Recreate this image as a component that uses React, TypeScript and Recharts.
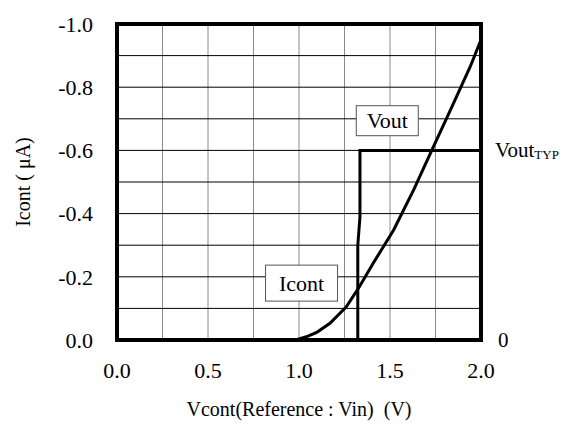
import React from 'react';
import { LineChart, Line, XAxis, YAxis, CartesianGrid, ReferenceArea, ReferenceDot } from 'recharts';

// X axis (Vcont, V)
const xTicks = [0, 0.25, 0.5, 0.75, 1.0, 1.25, 1.5, 1.75, 2.0];
const xLabeled = [0, 0.5, 1.0, 1.5, 2.0];
// Y axis (Icont, uA)
const yTicks = [0, -0.1, -0.2, -0.3, -0.4, -0.5, -0.6, -0.7, -0.8, -0.9, -1.0];
const yLabeled = [0, -0.2, -0.4, -0.6, -0.8, -1.0];
// right-side annotations: value levels and their texts
const rightLevels = [-0.6, 0];
const rightTexts = ['Vout|TYP', '0'];

// Icont curve
const icontX = [0, 0.98, 1.0, 1.05, 1.1, 1.17, 1.26, 1.33, 1.41, 1.52, 1.63, 1.73, 1.84, 1.94, 2.0];
const icontY = [0, 0, -0.003, -0.012, -0.025, -0.053, -0.105, -0.167, -0.245, -0.348, -0.475, -0.601, -0.738, -0.864, -0.95];
// Vout step
const voutX = [0, 1.323, 1.323, 1.335, 1.335, 2.0];
const voutY = [0, 0, -0.3, -0.39, -0.6, -0.6];

const icontData = icontX.map((x, i) => ({ x, y: icontY[i] }));
const voutData = voutX.map((x, i) => ({ x, y: voutY[i] }));

const FONT = "'Liberation Serif', 'Times New Roman', serif";

const isIn = (arr: number[], v: number) => arr.some((t) => Math.abs(t - v) < 1e-9);

const XTick = (props: any) => {
  const { x, y, payload } = props;
  if (!isIn(xLabeled, payload.value)) return <g />;
  return (
    <text x={x} y={y} dy="0.71em" textAnchor="middle" fontSize={22} fontFamily={FONT} fill="#000">
      {payload.value.toFixed(1)}
    </text>
  );
};

const YTick = (props: any) => {
  const { x, y, payload } = props;
  if (!isIn(yLabeled, payload.value)) return <g />;
  const v = payload.value;
  return (
    <text x={x} y={y} dy="0.35em" textAnchor="end" fontSize={22} fontFamily={FONT} fill="#000">
      {v === 0 ? '0.0' : v.toFixed(1)}
    </text>
  );
};

const rightShape = (txt: string) => (props: any) => {
  const { cx, cy } = props;
  const [main, sub] = txt.split('|');
  if (!sub) {
    return (
      <text x={cx + 17} y={cy} dy="0.35em" fontSize={21} fontFamily={FONT} fill="#000" textAnchor="start">
        {main}
      </text>
    );
  }
  return (
    <text x={cx + 14} y={cy} dy="0.3em" fontSize={21} fontFamily={FONT} fill="#000" textAnchor="start">
      {main}
      <tspan fontSize={13} dy="2">{sub}</tspan>
    </text>
  );
};

const boxShape = (label: string, w: number, h: number) => (props: any) => {
  const { cx, cy } = props;
  return (
    <g>
      <rect x={cx - w / 2} y={cy - h / 2} width={w} height={h} fill="#fff" stroke="#555" strokeWidth={1} />
      <text x={cx} y={cy} dy="0.35em" textAnchor="middle" fontSize={22} fontFamily={FONT} fill="#000">
        {label}
      </text>
    </g>
  );
};

const YLabel = (props: any) => {
  const { viewBox } = props;
  const cx = viewBox.x + 23;
  const cy = viewBox.y + viewBox.height / 2;
  return (
    <text x={cx} y={cy} transform={`rotate(-90 ${cx} ${cy})`} textAnchor="middle" dominantBaseline="central" fontSize={20} fontFamily={FONT} fill="#000">
      Icont ( μA)
    </text>
  );
};

const XLabel = (props: any) => {
  const { viewBox } = props;
  const cx = viewBox.x + viewBox.width / 2;
  const y = viewBox.y + viewBox.height - 10;
  return (
    <text x={cx} y={y} textAnchor="middle" fontSize={20} fontFamily={FONT} fill="#000" style={{ whiteSpace: 'pre' }}>
      {'Vcont(Reference : Vin)  (V)'}
    </text>
  );
};

export default function App() {
  return (
    <div style={{ position: 'absolute', left: 0, top: 0, background: '#fff', fontFamily: FONT }}>
      <LineChart width={581} height={426} margin={{ top: 24, right: 100, bottom: 0, left: 0 }}>
        <XAxis
          dataKey="x"
          type="number"
          domain={[0, 2]}
          ticks={xTicks}
          axisLine={false}
          tickLine={false}
          tickSize={0}
          tickMargin={22}
          height={86}
          interval={0}
          allowDataOverflow
          tick={<XTick />}
          label={<XLabel />}
        />
        <YAxis
          yAxisId="left"
          type="number"
          domain={[-1, 0]}
          reversed
          ticks={yTicks}
          axisLine={false}
          tickLine={false}
          tickSize={0}
          tickMargin={24}
          width={117}
          interval={0}
          allowDataOverflow
          tick={<YTick />}
          label={<YLabel />}
        />
        <CartesianGrid yAxisId="left" horizontal={false} stroke="#8a8a8a" strokeWidth={1} />
        <CartesianGrid yAxisId="left" vertical={false} stroke="#000" strokeWidth={1} />
        <ReferenceArea yAxisId="left" x1={0} x2={2} y1={-1} y2={0} fill="none" stroke="#000" strokeWidth={4} />
        <ReferenceDot yAxisId="left" x={1.485} y={-0.694} r={1} shape={boxShape('Vout', 62, 30)} />
        <ReferenceDot yAxisId="left" x={1.014} y={-0.18} r={1} shape={boxShape('Icont', 72, 36)} />
        {rightLevels.map((lv, i) => (
          <ReferenceDot key={i} yAxisId="left" x={2} y={lv} r={1} ifOverflow="visible" shape={rightShape(rightTexts[i])} />
        ))}
        <Line yAxisId="left" data={voutData} dataKey="y" type="linear" stroke="#000" strokeWidth={3} dot={false} isAnimationActive={false} />
        <Line yAxisId="left" data={icontData} dataKey="y" type="linear" stroke="#000" strokeWidth={3} dot={false} isAnimationActive={false} />
      </LineChart>
    </div>
  );
}
